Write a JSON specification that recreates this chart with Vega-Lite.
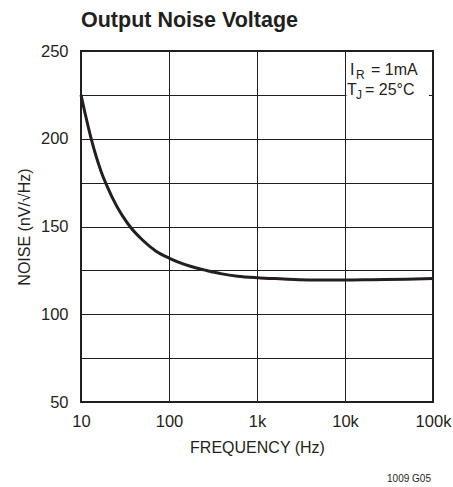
{
  "$schema": "https://vega.github.io/schema/vega-lite/v6.json",
  "width": 352,
  "height": 351,
  "autosize": "none",
  "padding": {"left": 81, "top": 51, "right": 20, "bottom": 85},
  "background": "white",
  "title": {
    "text": "Output Noise Voltage",
    "anchor": "start",
    "frame": "group",
    "font": "Liberation Sans",
    "fontSize": 21.5,
    "fontWeight": "bold",
    "color": "#231f20",
    "baseline": "alphabetic",
    "offset": -5
  },
  "config": {
    "view": {"stroke": "#231f20", "strokeWidth": 2},
    "axis": {
      "labelFont": "Liberation Sans",
      "titleFont": "Liberation Sans",
      "labelFontSize": 16.5,
      "titleFontSize": 16,
      "titleFontWeight": "normal",
      "labelColor": "#231f20",
      "titleColor": "#231f20",
      "gridColor": "#231f20",
      "gridOpacity": 1,
      "gridWidth": 1,
      "domain": false,
      "ticks": false
    }
  },
  "datasets": {
    "curve": [
      {"f": 10, "noise": 225},
      {"f": 11, "noise": 215.5},
      {"f": 12, "noise": 207.4},
      {"f": 13, "noise": 200.4},
      {"f": 15, "noise": 189.3},
      {"f": 17, "noise": 181.1},
      {"f": 20, "noise": 172.4},
      {"f": 25, "noise": 162.3},
      {"f": 30, "noise": 155.6},
      {"f": 36, "noise": 150},
      {"f": 50, "noise": 142.3},
      {"f": 70, "noise": 136.2},
      {"f": 100, "noise": 132},
      {"f": 150, "noise": 128.4},
      {"f": 200, "noise": 126.5},
      {"f": 250, "noise": 125.3},
      {"f": 400, "noise": 123},
      {"f": 600, "noise": 121.7},
      {"f": 1000, "noise": 120.8},
      {"f": 2000, "noise": 120.1},
      {"f": 3000, "noise": 119.7},
      {"f": 5000, "noise": 119.5},
      {"f": 10000, "noise": 119.5},
      {"f": 20000, "noise": 119.7},
      {"f": 50000, "noise": 120},
      {"f": 100000, "noise": 120.3}
    ],
    "box": [{"x1": 10400, "x2": 90000, "y1": 220.5, "y2": 249}]
  },
  "layer": [
    {
      "data": {"name": "curve"},
      "mark": {"type": "line", "color": "#231f20", "strokeWidth": 3, "interpolate": "monotone"},
      "encoding": {
        "x": {
          "field": "f", "type": "quantitative",
          "scale": {"type": "log", "domain": [10, 100000], "nice": false},
          "axis": {
            "values": [10, 100, 1000, 10000, 100000],
            "labelExpr": "datum.value >= 100000 ? '100k' : datum.value >= 10000 ? '10k' : datum.value >= 1000 ? '1k' : datum.value >= 100 ? '100' : '10'",
            "labelPadding": 11,
            "labelFlush": false,
            "title": "FREQUENCY (Hz)",
            "titlePadding": 10
          }
        },
        "y": {
          "field": "noise", "type": "quantitative",
          "scale": {"domain": [50, 250], "nice": false, "zero": false},
          "axis": {
            "values": [50, 75, 100, 125, 150, 175, 200, 225, 250],
            "labelExpr": "datum.value % 50 == 0 ? datum.label : ''",
            "labelPadding": 13,
            "labelFlush": false,
            "title": "NOISE (nV/√Hz)",
            "titlePadding": 8
          }
        }
      }
    },
    {
      "data": {"name": "box"},
      "mark": {"type": "rect", "fill": "white"},
      "encoding": {
        "x": {"field": "x1", "type": "quantitative"},
        "x2": {"field": "x2"},
        "y": {"field": "y1", "type": "quantitative"},
        "y2": {"field": "y2"}
      }
    },
    {
      "data": {"values": [{}]},
      "layer": [
        {"mark": {"type": "text", "align": "left", "baseline": "alphabetic", "font": "Liberation Sans", "fontSize": 16, "color": "#231f20", "text": "I", "dx": 5},
         "encoding": {"x": {"datum": 10000}, "y": {"datum": 236.5}}},
        {"mark": {"type": "text", "align": "left", "baseline": "alphabetic", "font": "Liberation Sans", "fontSize": 12, "color": "#231f20", "text": "R", "dx": 11, "dy": 4},
         "encoding": {"x": {"datum": 10000}, "y": {"datum": 236.5}}},
        {"mark": {"type": "text", "align": "left", "baseline": "alphabetic", "font": "Liberation Sans", "fontSize": 16, "color": "#231f20", "text": "= 1mA", "dx": 26},
         "encoding": {"x": {"datum": 10000}, "y": {"datum": 236.5}}},
        {"mark": {"type": "text", "align": "left", "baseline": "alphabetic", "font": "Liberation Sans", "fontSize": 16, "color": "#231f20", "text": "T", "dx": 2},
         "encoding": {"x": {"datum": 10000}, "y": {"datum": 225}}},
        {"mark": {"type": "text", "align": "left", "baseline": "alphabetic", "font": "Liberation Sans", "fontSize": 12, "color": "#231f20", "text": "J", "dx": 11, "dy": 4},
         "encoding": {"x": {"datum": 10000}, "y": {"datum": 225}}},
        {"mark": {"type": "text", "align": "left", "baseline": "alphabetic", "font": "Liberation Sans", "fontSize": 16, "color": "#231f20", "text": "= 25°C", "dx": 20},
         "encoding": {"x": {"datum": 10000}, "y": {"datum": 225}}},
        {"mark": {"type": "text", "align": "right", "baseline": "middle", "font": "Liberation Sans", "fontSize": 10, "color": "#231f20", "text": "1009 G05", "dx": -2},
         "encoding": {"x": {"datum": 100000}, "y": {"datum": 6.3}}}
      ]
    }
  ]
}
